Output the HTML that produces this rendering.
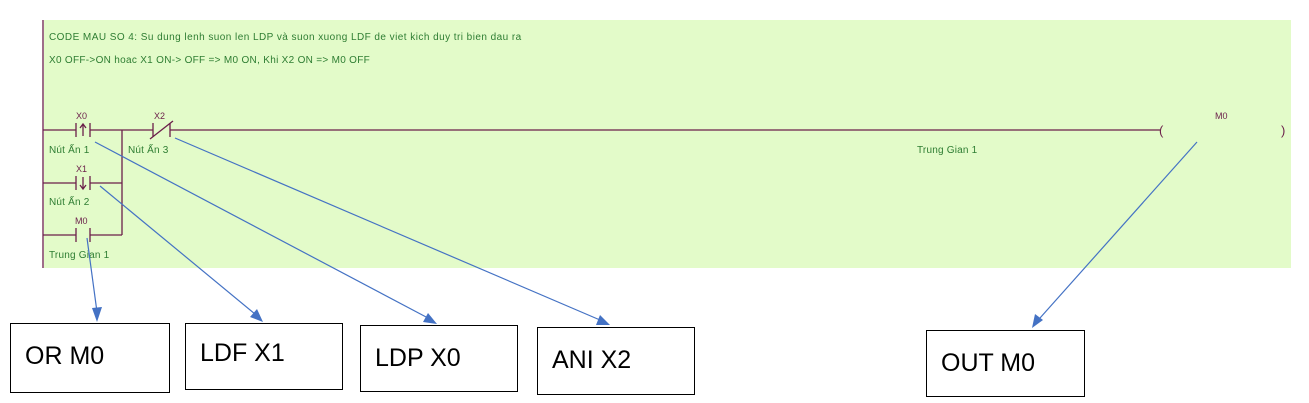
<!DOCTYPE html><html><head><meta charset="utf-8"><style>
body{margin:0;width:1309px;height:403px;background:#fff;position:relative;overflow:hidden;font-family:"Liberation Sans",sans-serif}
.g{position:absolute;left:44px;top:20px;width:1247px;height:248px;background:#e3fbc9}
.t{position:absolute;font-size:10px;letter-spacing:0.2px;color:#2e7d32;white-space:nowrap}
.l{position:absolute;font-size:9px;color:#6b1f4a;white-space:nowrap}
.b{position:absolute;border:1px solid #000;background:#fff;font-size:25px;box-sizing:border-box;padding:18px 0 0 14px}
</style></head><body>
<div class="g"></div>
<div class="t" style="left:49px;top:32px;letter-spacing:0.45px">CODE MAU SO 4: Su dung lenh suon len LDP và suon xuong LDF de viet kich duy tri bien dau ra</div>
<div class="t" style="left:49px;top:55px;letter-spacing:0.3px">X0 OFF-&gt;ON hoac X1 ON-&gt; OFF =&gt; M0 ON, Khi X2 ON =&gt; M0 OFF</div>
<div class="l" style="left:76px;top:111px">X0</div>
<div class="l" style="left:154px;top:111px">X2</div>
<div class="l" style="left:76px;top:164px">X1</div>
<div class="l" style="left:75px;top:216px">M0</div>
<div class="l" style="left:1215px;top:111px">M0</div>
<div class="t" style="left:49px;top:145px">Nút Ấn 1</div>
<div class="t" style="left:128px;top:145px">Nút Ấn 3</div>
<div class="t" style="left:49px;top:197px">Nút Ấn 2</div>
<div class="t" style="left:49px;top:250px">Trung Gian 1</div>
<div class="t" style="left:917px;top:145px">Trung Gian 1</div>
<svg width="1309" height="403" style="position:absolute;left:0;top:0">
<g stroke="#6b1f4a" stroke-width="1.3" fill="none">
<line x1="43" y1="20" x2="43" y2="268"/>
<line x1="43" y1="130" x2="76" y2="130"/><line x1="90" y1="130" x2="153" y2="130"/><line x1="170" y1="130" x2="1160" y2="130"/>
<line x1="76" y1="123" x2="76" y2="137"/><line x1="90" y1="123" x2="90" y2="137"/>
<path d="M83 136V125M80 128L83 124L86 128"/>
<line x1="153" y1="123" x2="153" y2="137"/><line x1="170" y1="123" x2="170" y2="137"/><line x1="150" y1="139" x2="173" y2="121"/>
<line x1="43" y1="183" x2="76" y2="183"/><line x1="90" y1="183" x2="122" y2="183"/>
<line x1="76" y1="176" x2="76" y2="190"/><line x1="90" y1="176" x2="90" y2="190"/>
<path d="M83 177V188M80 185L83 189L86 185"/>
<line x1="43" y1="235" x2="76" y2="235"/><line x1="90" y1="235" x2="122" y2="235"/>
<line x1="76" y1="228" x2="76" y2="242"/><line x1="90" y1="228" x2="90" y2="242"/>
<line x1="122" y1="130" x2="122" y2="235"/>
</g>
<text x="1159" y="135" font-size="13" fill="#6b1f4a" font-family="Liberation Sans">(</text>
<text x="1281" y="135" font-size="13" fill="#6b1f4a" font-family="Liberation Sans">)</text>
<g stroke="#4472c4" stroke-width="1.2">
<line x1="87" y1="238" x2="97" y2="312"/><line x1="100" y1="186" x2="255" y2="314"/>
<line x1="95" y1="142" x2="428" y2="318"/><line x1="175" y1="138" x2="600" y2="320"/>
<line x1="1197" y1="142" x2="1040" y2="318"/>
</g>
<g fill="#4472c4">
<polygon points="97,322 92,308 102,307"/><polygon points="263,322 250,317 257,309"/>
<polygon points="437,324 423,322 428,313"/><polygon points="610,325 596,325 600,315"/>
<polygon points="1032,328 1035,314 1043,320"/>
</g>
</svg>
<div class="b" style="left:10px;top:323px;width:160px;height:70px">OR M0</div>
<div class="b" style="left:185px;top:323px;width:158px;height:67px;padding-top:15px">LDF X1</div>
<div class="b" style="left:360px;top:325px;width:158px;height:67px">LDP X0</div>
<div class="b" style="left:537px;top:327px;width:158px;height:68px">ANI X2</div>
<div class="b" style="left:926px;top:330px;width:159px;height:67px">OUT M0</div>
</body></html>
